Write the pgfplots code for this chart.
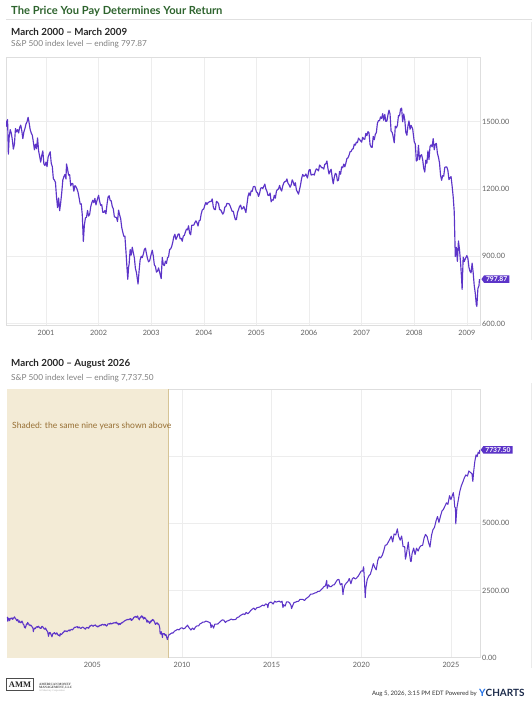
\documentclass[border=0pt]{standalone}
\usepackage{fontspec}
\setmainfont{Lato}
\newfontfamily\serifam{Liberation Serif}
\usepackage{pgfplots}
\pgfplotsset{compat=1.18}
\usepackage{pgfplotstable}
\usetikzlibrary{shapes.symbols}
\definecolor{linecol}{RGB}{92,52,200}
\definecolor{titlegreen}{RGB}{46,100,46}
\definecolor{shadefill}{RGB}{243,235,214}
\definecolor{shadeline}{RGB}{214,196,150}
\definecolor{shadetext}{RGB}{150,110,50}
\definecolor{ynavy}{RGB}{27,42,74}
\definecolor{yblue}{RGB}{30,110,230}

\pgfplotstableread[row sep=\\]{
x y\\
2000.24 1505\\ 2000.25 1480\\ 2000.27 1510\\ 2000.285 1356\\ 2000.30 1430\\ 2000.32 1465\\ 2000.34 1450\\ 2000.36 1420\\
2000.38 1378\\ 2000.40 1400\\ 2000.42 1470\\ 2000.44 1455\\ 2000.46 1465\\ 2000.48 1450\\ 2000.50 1475\\ 2000.52 1485\\
2000.54 1460\\ 2000.56 1425\\ 2000.58 1455\\ 2000.60 1470\\ 2000.62 1490\\ 2000.64 1500\\ 2000.66 1520\\ 2000.68 1495\\
2000.70 1465\\ 2000.72 1450\\ 2000.74 1440\\ 2000.76 1410\\ 2000.78 1375\\ 2000.80 1400\\ 2000.82 1380\\ 2000.84 1428\\
2000.86 1370\\ 2000.88 1345\\ 2000.90 1320\\ 2000.92 1350\\ 2000.94 1370\\ 2000.96 1312\\ 2000.98 1305\\ 2001.00 1320\\
2001.02 1300\\ 2001.04 1342\\ 2001.06 1355\\ 2001.08 1366\\ 2001.10 1315\\ 2001.12 1300\\ 2001.14 1246\\ 2001.16 1240\\
2001.18 1230\\ 2001.20 1165\\ 2001.22 1117\\ 2001.24 1160\\ 2001.26 1103\\ 2001.28 1140\\ 2001.30 1185\\ 2001.32 1240\\
2001.34 1255\\ 2001.36 1265\\ 2001.38 1245\\ 2001.39 1312\\ 2001.41 1290\\ 2001.43 1262\\ 2001.45 1264\\ 2001.47 1214\\
2001.49 1225\\ 2001.51 1224\\ 2001.53 1190\\ 2001.55 1215\\ 2001.57 1210\\ 2001.59 1200\\ 2001.61 1185\\ 2001.63 1160\\
2001.65 1133\\ 2001.67 1134\\ 2001.69 1085\\ 2001.71 966\\ 2001.73 1040\\ 2001.75 1071\\ 2001.77 1074\\ 2001.79 1104\\
2001.81 1079\\ 2001.83 1087\\ 2001.85 1120\\ 2001.87 1138\\ 2001.89 1150\\ 2001.91 1139\\ 2001.93 1158\\ 2001.95 1129\\
2001.97 1149\\ 2002.00 1172\\ 2002.02 1145\\ 2002.04 1127\\ 2002.06 1130\\ 2002.08 1096\\ 2002.10 1096\\ 2002.12 1104\\
2002.14 1089\\ 2002.16 1132\\ 2002.18 1164\\ 2002.20 1170\\ 2002.22 1149\\ 2002.24 1147\\ 2002.26 1122\\ 2002.28 1111\\
2002.30 1076\\ 2002.32 1074\\ 2002.34 1073\\ 2002.36 1055\\ 2002.38 1106\\ 2002.40 1084\\ 2002.42 1067\\ 2002.44 1028\\
2002.46 1007\\ 2002.48 989\\ 2002.50 990\\ 2002.52 922\\ 2002.54 847\\ 2002.555 797\\ 2002.57 852\\ 2002.58 864\\
2002.60 930\\ 2002.62 905\\ 2002.64 940\\ 2002.66 916\\ 2002.68 893\\ 2002.70 845\\ 2002.72 827\\ 2002.75 776\\
2002.77 835\\ 2002.79 884\\ 2002.81 900\\ 2002.83 894\\ 2002.85 909\\ 2002.87 930\\ 2002.89 936\\ 2002.91 912\\
2002.93 889\\ 2002.95 875\\ 2002.97 880\\ 2003.00 909\\ 2003.02 927\\ 2003.04 901\\ 2003.06 861\\ 2003.08 855\\
2003.10 829\\ 2003.12 834\\ 2003.14 848\\ 2003.16 829\\ 2003.19 800\\ 2003.21 895\\ 2003.23 863\\ 2003.25 858\\
2003.27 878\\ 2003.29 868\\ 2003.31 893\\ 2003.33 898\\ 2003.35 930\\ 2003.37 933\\ 2003.39 944\\ 2003.41 963\\
2003.43 987\\ 2003.45 998\\ 2003.47 975\\ 2003.49 985\\ 2003.51 998\\ 2003.53 1000\\ 2003.55 978\\ 2003.57 980\\
2003.59 967\\ 2003.61 990\\ 2003.63 993\\ 2003.65 1008\\ 2003.67 1021\\ 2003.69 1018\\ 2003.71 1036\\ 2003.73 1003\\
2003.75 996\\ 2003.77 1038\\ 2003.79 1038\\ 2003.81 1039\\ 2003.83 1050\\ 2003.85 1058\\ 2003.87 1050\\ 2003.89 1035\\
2003.91 1058\\ 2003.93 1060\\ 2003.95 1088\\ 2003.97 1106\\ 2004.00 1112\\ 2004.02 1128\\ 2004.04 1140\\ 2004.06 1131\\
2004.08 1139\\ 2004.10 1142\\ 2004.12 1145\\ 2004.14 1144\\ 2004.16 1156\\ 2004.18 1120\\ 2004.20 1109\\ 2004.22 1108\\
2004.24 1145\\ 2004.26 1141\\ 2004.28 1135\\ 2004.30 1108\\ 2004.32 1107\\ 2004.34 1098\\ 2004.36 1088\\ 2004.38 1095\\
2004.40 1120\\ 2004.42 1122\\ 2004.44 1136\\ 2004.46 1135\\ 2004.48 1134\\ 2004.50 1125\\ 2004.52 1112\\ 2004.54 1100\\
2004.56 1101\\ 2004.58 1080\\ 2004.60 1063\\ 2004.62 1064\\ 2004.64 1095\\ 2004.66 1108\\ 2004.68 1123\\ 2004.70 1128\\
2004.72 1110\\ 2004.74 1114\\ 2004.76 1122\\ 2004.78 1109\\ 2004.80 1095\\ 2004.82 1131\\ 2004.84 1167\\ 2004.86 1183\\
2004.88 1170\\ 2004.90 1192\\ 2004.92 1190\\ 2004.94 1210\\ 2004.97 1212\\ 2005.00 1187\\ 2005.02 1184\\ 2005.04 1167\\
2005.06 1181\\ 2005.08 1203\\ 2005.10 1206\\ 2005.12 1202\\ 2005.14 1212\\ 2005.16 1222\\ 2005.18 1200\\ 2005.20 1190\\
2005.22 1171\\ 2005.24 1172\\ 2005.26 1182\\ 2005.28 1143\\ 2005.30 1152\\ 2005.32 1150\\ 2005.34 1172\\ 2005.36 1159\\
2005.38 1190\\ 2005.40 1198\\ 2005.42 1200\\ 2005.44 1216\\ 2005.46 1200\\ 2005.48 1191\\ 2005.50 1213\\ 2005.52 1227\\
2005.54 1233\\ 2005.56 1234\\ 2005.58 1245\\ 2005.60 1226\\ 2005.62 1219\\ 2005.64 1208\\ 2005.66 1218\\ 2005.68 1241\\
2005.70 1231\\ 2005.72 1215\\ 2005.74 1228\\ 2005.76 1196\\ 2005.78 1187\\ 2005.80 1177\\ 2005.82 1198\\ 2005.84 1220\\
2005.86 1248\\ 2005.88 1265\\ 2005.90 1257\\ 2005.92 1259\\ 2005.94 1267\\ 2005.97 1249\\ 2006.00 1285\\ 2006.02 1287\\
2006.04 1262\\ 2006.06 1264\\ 2006.08 1266\\ 2006.10 1262\\ 2006.12 1280\\ 2006.14 1290\\ 2006.16 1287\\ 2006.18 1281\\
2006.20 1307\\ 2006.22 1302\\ 2006.24 1295\\ 2006.26 1295\\ 2006.28 1289\\ 2006.30 1311\\ 2006.32 1312\\ 2006.34 1325\\
2006.36 1291\\ 2006.38 1267\\ 2006.40 1280\\ 2006.42 1288\\ 2006.44 1252\\ 2006.46 1223\\ 2006.48 1252\\ 2006.50 1270\\
2006.52 1266\\ 2006.54 1236\\ 2006.56 1240\\ 2006.58 1278\\ 2006.60 1266\\ 2006.62 1299\\ 2006.64 1295\\ 2006.66 1311\\
2006.68 1299\\ 2006.70 1315\\ 2006.72 1336\\ 2006.74 1339\\ 2006.76 1350\\ 2006.78 1366\\ 2006.80 1368\\ 2006.82 1377\\
2006.84 1380\\ 2006.86 1400\\ 2006.88 1396\\ 2006.90 1409\\ 2006.92 1407\\ 2006.94 1427\\ 2006.97 1418\\ 2007.00 1409\\
2007.02 1431\\ 2007.04 1423\\ 2007.06 1422\\ 2007.08 1448\\ 2007.10 1438\\ 2007.12 1456\\ 2007.14 1451\\ 2007.16 1399\\
2007.18 1387\\ 2007.20 1386\\ 2007.22 1435\\ 2007.24 1420\\ 2007.26 1444\\ 2007.28 1452\\ 2007.30 1494\\ 2007.32 1505\\
2007.34 1505\\ 2007.36 1522\\ 2007.38 1515\\ 2007.40 1536\\ 2007.42 1507\\ 2007.44 1533\\ 2007.46 1502\\ 2007.48 1503\\
2007.50 1530\\ 2007.52 1552\\ 2007.54 1535\\ 2007.56 1458\\ 2007.58 1453\\ 2007.60 1433\\ 2007.62 1406\\ 2007.64 1480\\
2007.66 1473\\ 2007.68 1484\\ 2007.70 1528\\ 2007.72 1526\\ 2007.74 1557\\ 2007.76 1561\\ 2007.78 1500\\ 2007.80 1535\\
2007.82 1509\\ 2007.84 1453\\ 2007.86 1440\\ 2007.88 1481\\ 2007.90 1504\\ 2007.92 1467\\ 2007.94 1484\\ 2007.97 1468\\
2008.00 1411\\ 2008.02 1401\\ 2008.04 1325\\ 2008.06 1330\\ 2008.08 1395\\ 2008.10 1331\\ 2008.12 1349\\ 2008.14 1353\\
2008.16 1331\\ 2008.18 1293\\ 2008.20 1276\\ 2008.22 1329\\ 2008.24 1315\\ 2008.26 1370\\ 2008.28 1332\\ 2008.30 1390\\
2008.32 1397\\ 2008.34 1388\\ 2008.36 1425\\ 2008.38 1375\\ 2008.40 1400\\ 2008.42 1404\\ 2008.44 1360\\ 2008.46 1342\\
2008.48 1317\\ 2008.50 1262\\ 2008.52 1239\\ 2008.54 1260\\ 2008.56 1257\\ 2008.58 1296\\ 2008.60 1299\\ 2008.62 1298\\
2008.64 1282\\ 2008.66 1242\\ 2008.68 1251\\ 2008.70 1255\\ 2008.72 1213\\ 2008.74 1166\\ 2008.76 1099\\ 2008.78 899\\
2008.80 940\\ 2008.82 877\\ 2008.84 968\\ 2008.86 930\\ 2008.88 873\\ 2008.90 800\\ 2008.91 752\\ 2008.93 896\\
2008.95 876\\ 2008.97 888\\ 2009.00 903\\ 2009.02 890\\ 2009.04 850\\ 2009.06 832\\ 2009.08 826\\ 2009.10 869\\
2009.12 827\\ 2009.14 770\\ 2009.16 735\\ 2009.18 683\\ 2009.19 676\\ 2009.21 756\\ 2009.23 768\\ 2009.24 797.87\\
}\firstnine

\pgfplotstableread[row sep=\\]{
x y\\
2009.24 797.87\\ 2009.29 870\\ 2009.33 873\\ 2009.42 919\\ 2009.50 919\\ 2009.58 987\\ 2009.67 1020\\ 2009.75 1057\\
2009.83 1036\\ 2009.92 1096\\ 2010.00 1115\\ 2010.08 1074\\ 2010.17 1104\\ 2010.25 1169\\ 2010.31 1211\\ 2010.33 1187\\
2010.42 1089\\ 2010.50 1031\\ 2010.58 1102\\ 2010.67 1049\\ 2010.75 1141\\ 2010.83 1183\\ 2010.92 1181\\ 2011.00 1258\\
2011.08 1286\\ 2011.17 1327\\ 2011.25 1326\\ 2011.33 1364\\ 2011.42 1345\\ 2011.50 1321\\ 2011.58 1292\\ 2011.62 1120\\
2011.67 1219\\ 2011.75 1131\\ 2011.76 1099\\ 2011.83 1253\\ 2011.92 1247\\ 2012.00 1258\\ 2012.08 1312\\ 2012.17 1366\\
2012.25 1408\\ 2012.33 1398\\ 2012.42 1310\\ 2012.50 1362\\ 2012.58 1379\\ 2012.67 1406\\ 2012.75 1441\\ 2012.83 1412\\
2012.92 1416\\ 2013.00 1426\\ 2013.08 1498\\ 2013.17 1515\\ 2013.25 1569\\ 2013.33 1597\\ 2013.42 1631\\ 2013.50 1606\\
2013.58 1686\\ 2013.67 1633\\ 2013.75 1682\\ 2013.83 1757\\ 2013.92 1806\\ 2014.00 1848\\ 2014.08 1783\\ 2014.17 1859\\
2014.25 1872\\ 2014.33 1884\\ 2014.42 1924\\ 2014.50 1960\\ 2014.58 1931\\ 2014.67 2003\\ 2014.75 1972\\ 2014.79 1862\\
2014.83 2018\\ 2014.92 2068\\ 2015.00 2059\\ 2015.08 1995\\ 2015.17 2105\\ 2015.25 2068\\ 2015.33 2086\\ 2015.42 2107\\
2015.50 2063\\ 2015.58 2104\\ 2015.63 1868\\ 2015.67 1972\\ 2015.75 1920\\ 2015.83 2079\\ 2015.92 2080\\ 2016.00 2044\\
2016.08 1940\\ 2016.11 1829\\ 2016.17 1932\\ 2016.25 2060\\ 2016.33 2065\\ 2016.42 2097\\ 2016.50 2099\\ 2016.58 2174\\
2016.67 2171\\ 2016.75 2168\\ 2016.83 2126\\ 2016.92 2199\\ 2017.00 2239\\ 2017.08 2279\\ 2017.17 2364\\ 2017.25 2363\\
2017.33 2384\\ 2017.42 2412\\ 2017.50 2423\\ 2017.58 2470\\ 2017.67 2472\\ 2017.75 2519\\ 2017.83 2575\\ 2017.92 2648\\
2018.00 2674\\ 2018.07 2873\\ 2018.10 2581\\ 2018.17 2714\\ 2018.25 2641\\ 2018.33 2648\\ 2018.42 2705\\ 2018.50 2718\\
2018.58 2816\\ 2018.67 2902\\ 2018.75 2914\\ 2018.83 2711\\ 2018.92 2760\\ 2018.98 2351\\ 2019.00 2507\\ 2019.08 2704\\
2019.17 2784\\ 2019.25 2834\\ 2019.33 2946\\ 2019.42 2752\\ 2019.50 2942\\ 2019.58 2980\\ 2019.67 2926\\ 2019.75 2977\\
2019.83 3038\\ 2019.92 3141\\ 2020.00 3231\\ 2020.08 3226\\ 2020.13 3386\\ 2020.17 2954\\ 2020.22 2237\\ 2020.25 2585\\
2020.33 2912\\ 2020.42 3044\\ 2020.50 3100\\ 2020.58 3271\\ 2020.67 3500\\ 2020.75 3363\\ 2020.83 3270\\ 2020.92 3622\\
2021.00 3756\\ 2021.08 3714\\ 2021.17 3811\\ 2021.25 3973\\ 2021.33 4181\\ 2021.42 4204\\ 2021.50 4298\\ 2021.58 4395\\
2021.67 4523\\ 2021.75 4308\\ 2021.83 4605\\ 2021.92 4567\\ 2022.00 4766\\ 2022.01 4796\\ 2022.08 4516\\ 2022.17 4374\\
2022.25 4530\\ 2022.33 4132\\ 2022.42 4132\\ 2022.46 3667\\ 2022.50 3785\\ 2022.58 4130\\ 2022.62 4305\\ 2022.67 3955\\
2022.75 3586\\ 2022.78 3577\\ 2022.83 3872\\ 2022.92 4080\\ 2023.00 3840\\ 2023.08 4077\\ 2023.17 3970\\ 2023.25 4109\\
2023.33 4169\\ 2023.42 4180\\ 2023.50 4450\\ 2023.58 4589\\ 2023.67 4508\\ 2023.75 4288\\ 2023.83 4118\\ 2023.92 4568\\
2024.00 4770\\ 2024.08 4846\\ 2024.17 5096\\ 2024.25 5254\\ 2024.33 5036\\ 2024.42 5278\\ 2024.50 5460\\ 2024.58 5522\\
2024.67 5648\\ 2024.75 5762\\ 2024.83 5705\\ 2024.92 6032\\ 2025.00 5882\\ 2025.08 6041\\ 2025.13 6144\\ 2025.17 5955\\
2025.21 5612\\ 2025.25 5580\\ 2025.27 4982\\ 2025.33 5569\\ 2025.42 5911\\ 2025.50 6205\\ 2025.58 6400\\ 2025.67 6550\\
2025.75 6700\\ 2025.83 6800\\ 2025.92 6760\\ 2026.00 6950\\ 2026.08 6900\\ 2026.17 6850\\ 2026.22 6560\\ 2026.27 6950\\
2026.33 7300\\ 2026.40 7550\\ 2026.46 7480\\ 2026.52 7650\\ 2026.58 7600\\ 2026.61 7737.5\\
}\afterwards

\pgfplotsset{
  spstyle/.style={
    scale only axis,
    axis line style={draw=black!13, line width=0.7bp},
    grid=major,
    grid style={draw=black!7, line width=0.6bp},
    major tick length=0pt,
    tick label style={font=\fontsize{7.3}{8}\selectfont, text=black!62},
    yticklabel pos=right,
    yticklabel style={anchor=west, inner sep=0pt, xshift=2bp},
    xticklabel style={anchor=north, inner sep=0pt, yshift=-4.5bp},
    /pgf/number format/assume math mode=true,
    scaled x ticks=false, scaled y ticks=false,
    yticklabel={\pgfmathprintnumber[fixed,fixed zerofill,precision=2,1000 sep={}]{\tick}},
    tick align=inside,
  }
}

\begin{document}
\begin{tikzpicture}
\useasboundingbox (0,0) rectangle (532bp,-703bp);
\fill[white] (0,0) rectangle (532bp,-703bp);

% header
\node[anchor=base west, inner sep=0pt, text=titlegreen, font=\bfseries\fontsize{11.2}{12}\selectfont] at (11bp,-14.5bp) {The Price You Pay Determines Your Return};
\draw[black!12, line width=0.7bp] (6bp,-19.5bp) -- (532bp,-19.5bp);

% panel borders
\draw[black!8, line width=0.6bp] (531bp,-22bp) -- (531bp,-340bp);
\draw[black!8, line width=0.6bp] (531bp,-383bp) -- (531bp,-668bp);

% top titles
\node[anchor=base west, inner sep=0pt, text=black!85, font=\bfseries\fontsize{9.8}{11}\selectfont] at (11bp,-35.5bp) {March 2000 – March 2009};
\node[anchor=base west, inner sep=0pt, text=black!50, font=\fontsize{8.3}{9}\selectfont] at (11bp,-46.3bp) {S\&P 500 index level — ending 797.87};

\begin{axis}[spstyle,
  at={(6bp,-325.7bp)}, anchor=south west,
  width=474bp, height=268bp,
  xmin=2000.24, xmax=2009.25, ymin=590, ymax=1786,
  xtick={2001,2002,2003,2004,2005,2006,2007,2008,2009},
  xticklabels={2001,2002,2003,2004,2005,2006,2007,2008,2009},
  ytick={600,900,1200,1500},
]
\addplot[linecol, line width=1.15bp, line join=round] table[x=x,y=y] {\firstnine};
\coordinate (endA) at (axis cs:2009.25,797.87);
\end{axis}
\node[signal, signal to=west, signal pointer angle=110, fill=linecol, text=white,
  font=\bfseries\fontsize{6.8}{7}\selectfont, inner xsep=2bp, inner ysep=1.2bp,
  anchor=west, xshift=1.2bp] at (endA) {797.87};

% bottom titles
\node[anchor=base west, inner sep=0pt, text=black!85, font=\bfseries\fontsize{9.8}{11}\selectfont] at (11bp,-366.3bp) {March 2000 – August 2026};
\node[anchor=base west, inner sep=0pt, text=black!50, font=\fontsize{8.3}{9}\selectfont] at (11bp,-380.3bp) {S\&P 500 index level — ending 7,737.50};

\begin{axis}[spstyle,
  at={(7bp,-657.7bp)}, anchor=south west,
  width=473bp, height=268.7bp,
  xmin=2000.24, xmax=2026.62, ymin=0, ymax=10000,
  xtick={2005,2010,2015,2020,2025},
  xticklabels={2005,2010,2015,2020,2025},
  ytick={0,2500,5000},
  extra y ticks={7500}, extra y tick labels={},
]
\fill[shadefill] (axis cs:2000.24,0) rectangle (axis cs:2009.25,10000);
\draw[shadeline, line width=0.9bp] (axis cs:2009.25,0) -- (axis cs:2009.25,10000);
\addplot[linecol, line width=1.05bp, line join=round] table[x=x,y=y] {\firstnine};
\addplot[linecol, line width=1.05bp, line join=round] table[x=x,y=y] {\afterwards};
\coordinate (endB) at (axis cs:2026.62,7737.5);
\end{axis}
\node[signal, signal to=west, signal pointer angle=110, fill=linecol, text=white,
  font=\bfseries\fontsize{6.8}{7}\selectfont, inner xsep=2bp, inner ysep=1.2bp,
  anchor=west, xshift=0.5bp] at (endB) {7737.50};
\node[anchor=base west, inner sep=0pt, text=shadetext, font=\fontsize{8.6}{9}\selectfont] at (12bp,-428.5bp) {Shaded: the same nine years shown above};

% footer
\draw[black!70, line width=0.8bp] (6.7bp,-678.3bp) rectangle (33.3bp,-690.7bp);
\node[inner sep=0pt, font=\serifam\bfseries\fontsize{8.5}{8.5}\selectfont, text=black!85] at (20bp,-684.6bp) {AMM};
\node[anchor=base west, inner sep=0pt, font=\serifam\bfseries\fontsize{3.3}{3.5}\selectfont, text=black!70] at (39bp,-685bp) {AMERICAN MONEY};
\node[anchor=base west, inner sep=0pt, font=\serifam\bfseries\fontsize{3.3}{3.5}\selectfont, text=black!70] at (39bp,-688.6bp) {MANAGEMENT, LLC};
\node[anchor=base west, inner sep=0pt, font=\serifam\fontsize{2.6}{3}\selectfont, text=black!35] at (39bp,-691.8bp) {A Fiduciary Corporation};
\node[anchor=base east, inner sep=0pt, font=\fontsize{6.1}{7}\selectfont, text=black!80] at (477bp,-695.5bp) {Aug 5, 2026, 3:15 PM EDT Powered by};
\node[anchor=base west, inner sep=0pt, font=\bfseries\fontsize{10}{11}\selectfont] at (479bp,-696bp) {\textcolor{yblue}{Y}\textcolor{ynavy}{CHARTS}};
\end{tikzpicture}
\end{document}
